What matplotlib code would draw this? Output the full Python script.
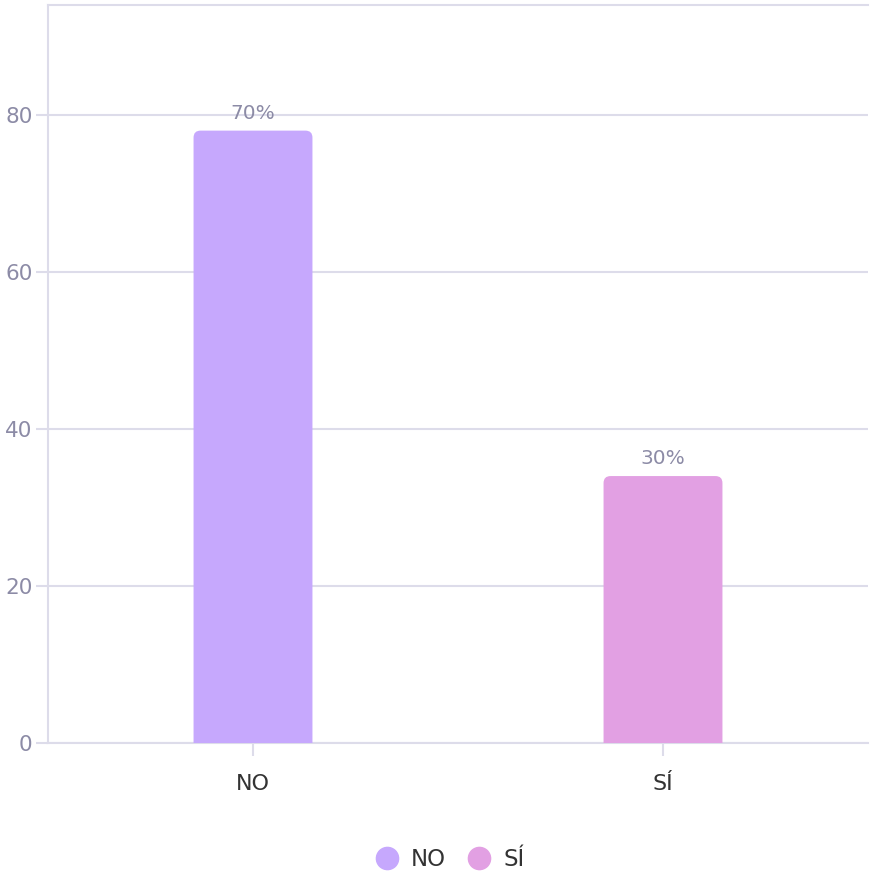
import matplotlib
matplotlib.use("Agg")
import matplotlib.pyplot as plt
from matplotlib.patches import FancyBboxPatch
from matplotlib.lines import Line2D

categories = ["NO", "SÍ"]
values = [78, 34]
labels = ["70%", "30%"]
colors = ["#C6A8FD", "#E2A0E3"]
yticks = [0, 20, 40, 60, 80]

plt.rcParams['font.family'] = ['DejaVu Sans']

W, H = 872, 874
fig = plt.figure(figsize=(W/100, H/100), dpi=100)
left, right, top, bottom = 48, 868, 5, 743
ax = fig.add_axes([left/W, (H-bottom)/H, (right-left)/W, (bottom-top)/H])

ymax = 94
ax.set_xlim(-0.5, len(categories)-0.5)
ax.set_ylim(0, ymax)

grid_c = "#DDDCEA"
text_c = "#8C8BA6"
bw = 0.29
px_x = (right-left)/len(categories)
px_y = (bottom-top)/ymax
r_px = 7
rx = r_px/px_x
for i, (v, c, lab) in enumerate(zip(values, colors, labels)):
    bars = ax.bar(i, v, width=bw, color=c, alpha=0)
    b = bars[0]
    p = FancyBboxPatch((b.get_x(), -5), b.get_width(), v + 5,
                       boxstyle=f"round,pad=0,rounding_size={rx}",
                       mutation_aspect=px_x/px_y,
                       facecolor=c, edgecolor="none", zorder=3)
    ax.add_patch(p)
    ax.text(i, v + 1.0, lab, ha="center", va="bottom", fontsize=14.5, color=text_c)

ax.set_yticks(yticks)
ax.set_yticklabels([str(t) for t in yticks])
ax.set_xticks(range(len(categories)))
ax.set_xticklabels(categories)
ax.grid(axis="y", color=grid_c, linewidth=1.5)
ax.set_axisbelow(True)
ax.spines["right"].set_visible(False)
for s in ["left", "bottom", "top"]:
    ax.spines[s].set_color(grid_c)
    ax.spines[s].set_linewidth(1.5)
ax.tick_params(axis="y", length=9, width=1.5, color=grid_c, labelcolor=text_c, labelsize=15.5, pad=2)
ax.tick_params(axis="x", length=9, width=1.5, color=grid_c, labelcolor="#333333", labelsize=16, pad=13)

handles = [Line2D([0], [0], marker='o', linestyle='none', markersize=16,
                  markerfacecolor=c, markeredgecolor=c) for c in colors]
fig.legend(handles, categories, loc="center", bbox_to_anchor=(444/W, (H-860)/H),
           ncol=2, frameon=False, fontsize=16.5, handletextpad=0.05, columnspacing=0.45,
           labelcolor="#333333")

fig.savefig("out.png", dpi=100)
